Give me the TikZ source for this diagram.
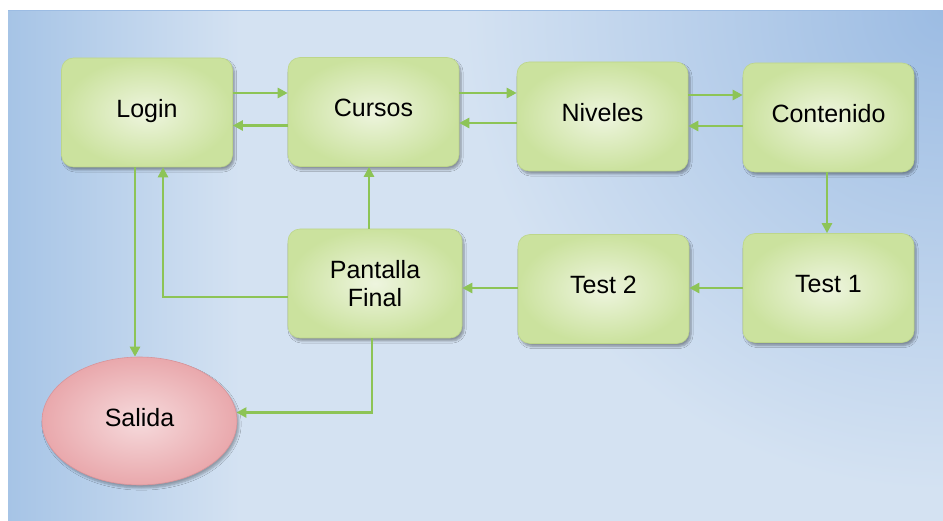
\documentclass[tikz,border=0pt]{standalone}
\usepackage{fontspec}
\setmainfont{Liberation Sans}
\usetikzlibrary{shapes.geometric,arrows.meta,shadows.blur}

\definecolor{panel}{HTML}{D4E2F2}
\definecolor{panelleft}{HTML}{A6C4E6}
\definecolor{panelcorner}{HTML}{9CBCE3}
\definecolor{boxin}{HTML}{EEF5DF}
\definecolor{boxout}{HTML}{CBE29E}
\definecolor{boxline}{HTML}{BDD68A}
\definecolor{exitin}{HTML}{F6DADC}
\definecolor{exitout}{HTML}{E9A8AC}
\definecolor{exitline}{HTML}{D9949A}
\definecolor{flow}{HTML}{8DC456}

\tikzset{
  screen/.style={rectangle, rounded corners=12pt, draw=boxline, line width=0.6pt,
    inner color=boxin, outer color=boxout,
    minimum width=171pt, minimum height=109pt, inner sep=0pt,
    align=center, font=\fontsize{25}{28}\selectfont,
    blur shadow={shadow xshift=2pt, shadow yshift=-3pt, shadow blur steps=6, shadow opacity=35}},
  oneline/.style={text height=19pt, text depth=9pt},
  exitnode/.style={ellipse, draw=exitline, line width=0.6pt,
    inner color=exitin, outer color=exitout,
    minimum width=195pt, minimum height=128pt, inner sep=0pt,
    font=\fontsize{25}{28}\selectfont, text height=19pt, text depth=7pt,
    blur shadow={shadow xshift=2pt, shadow yshift=-3pt, shadow blur steps=6, shadow opacity=30}},
  arr/.style={draw=flow, line width=2.6pt, -{Triangle[length=10pt,width=10pt]}}
}

\begin{document}
\begin{tikzpicture}[x=1pt,y=1pt]
  \useasboundingbox (0,0) rectangle (943,520);
  \fill[white] (-5,-5) rectangle (948,525);

  % backdrop panel with soft blue gradients
  \begin{scope}
    \clip (8,-5) rectangle (948,509);
    \fill[panel] (8,-5) rectangle (948,509);
    \shade[left color=panelleft, right color=panel] (8,-5) rectangle (240,509);
    \shade[inner color=panelcorner, outer color=panel] (943,509) circle (480);
  \end{scope}
  \draw[panelcorner, line width=1pt] (8,509) -- (948,509);

  % screens
  \node[screen, oneline] (login)     at (147,407.5) {Login};
  \node[screen, oneline] (cursos)    at (373.5,408) {Cursos};
  \node[screen, oneline] (niveles)   at (602.5,403.5) {Niveles};
  \node[screen, oneline] (contenido) at (828.5,402.5) {Contenido};
  \node[screen, oneline] (test1)     at (828.5,232) {Test 1};
  \node[screen, oneline] (test2)     at (603.5,231) {Test 2};
  \node[screen, minimum width=174pt] (final) at (375,236.5) {Pantalla\\Final};
  \node[exitnode] (salida)  at (139.5,99) {Salida};

  % forward and backward links along the top row
  \draw[arr] ([yshift=19.5pt]login.east) -- ([yshift=19.5pt]login.east -| cursos.west);
  \draw[arr] ([yshift=-13.5pt]cursos.west) -- ([yshift=-13.5pt]cursos.west -| login.east);
  \draw[arr] ([yshift=19pt]cursos.east) -- ([yshift=19pt]cursos.east -| niveles.west);
  \draw[arr] ([yshift=-6.5pt]niveles.west) -- ([yshift=-6.5pt]niveles.west -| cursos.east);
  \draw[arr] ([yshift=21.5pt]niveles.east) -- ([yshift=21.5pt]niveles.east -| contenido.west);
  \draw[arr] ([yshift=-8.5pt]contenido.west) -- ([yshift=-8.5pt]contenido.west -| niveles.east);

  % tests
  \draw[arr] ([xshift=-1.5pt]contenido.south) -- ([xshift=-1.5pt]contenido.south |- test1.north);
  \draw[arr] (test1.west) -- (test1.west -| test2.east);
  \draw[arr] ([yshift=1pt]test2.west) -- ([yshift=1pt]test2.west -| final.east);

  % final screen exits
  \draw[arr] ([xshift=-6pt]final.north) -- ([xshift=-6pt]final.north |- cursos.south);
  \draw[arr] ([yshift=-13.5pt]final.west) -| ([xshift=16pt]login.south);
  \draw[arr] ([xshift=-3pt]final.south) |- (salida.5);
  \draw[arr] ([xshift=-12pt]login.south) -- ([xshift=-12pt]login.south |- salida.north);
\end{tikzpicture}
\end{document}
